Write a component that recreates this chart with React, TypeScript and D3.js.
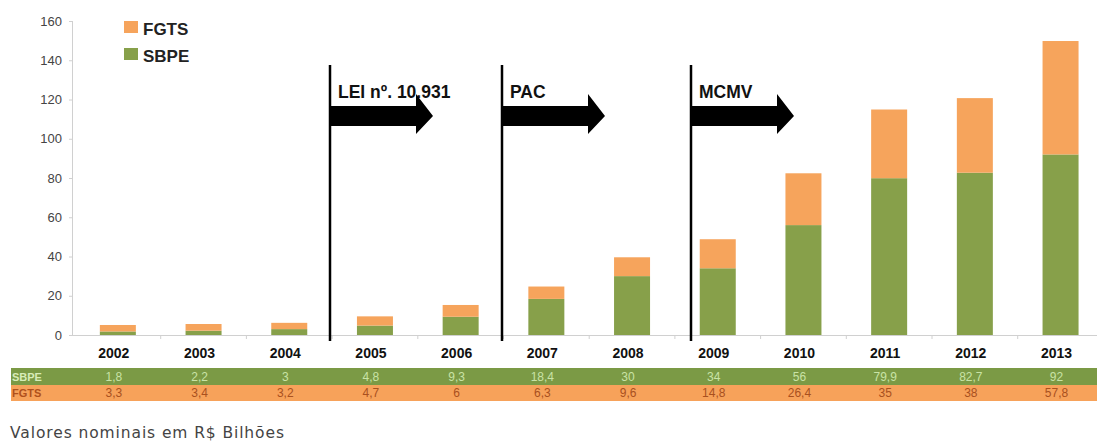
import React from "react";
import * as d3 from "d3";

const years = ["2002","2003","2004","2005","2006","2007","2008","2009","2010","2011","2012","2013"];
const sbpe = [1.8, 2.2, 3, 4.8, 9.3, 18.4, 30, 34, 56, 79.9, 82.7, 92];
const fgts = [3.3, 3.4, 3.2, 4.7, 6, 6.3, 9.6, 14.8, 26.4, 35, 38, 57.8];
const sbpeLabels = ["1,8","2,2","3","4,8","9,3","18,4","30","34","56","79,9","82,7","92"];
const fgtsLabels = ["3,3","3,4","3,2","4,7","6","6,3","9,6","14,8","26,4","35","38","57,8"];
const yTicks = [0, 20, 40, 60, 80, 100, 120, 140, 160];
const events = [
  { label: "LEI nº. 10.931", x: 330 },
  { label: "PAC", x: 502 },
  { label: "MCMV", x: 691 },
];

const W = 1097, H = 444;
const ORANGE = "#f6a45c";
const GREEN = "#87a04a";
const ROW_GREEN = "#7b9a45";
const ROW_ORANGE = "#f7a25a";

export default function App() {
  const xs = d3.scaleBand<string>().domain(years).range([75, 75 + 85.7 * 12]);
  const y = d3.scaleLinear().domain([0, 160]).range([335, 21]);
  const stacked = d3.stack<any>().keys(["sbpe", "fgts"])(
    years.map((yr, i) => ({ year: yr, sbpe: sbpe[i], fgts: fgts[i] }))
  );
  const colors = [GREEN, ORANGE];
  const bw = 36;
  const font = "Arial, 'Liberation Sans', Helvetica, sans-serif";

  return (
    <svg width={W} height={H} style={{ position: "absolute", left: 0, top: 0, background: "#fff" }} fontFamily={font}>
      {/* y axis */}
      <line x1={72.5} x2={72.5} y1={y(160)} y2={y(0)} stroke="#d0d0d0" />
      {yTicks.map((t) => (
        <g key={t}>
          <line x1={69} x2={72.5} y1={y(t) + 0.5} y2={y(t) + 0.5} stroke="#d0d0d0" />
          <text x={62} y={y(t) + 4.5} textAnchor="end" fontSize={13} fill="#444">{t}</text>
        </g>
      ))}
      {/* x axis */}
      <line x1={72} x2={W} y1={y(0) + 0.5} y2={y(0) + 0.5} stroke="#d0d0d0" />
      {years.map((yr) => (
        <line key={yr} x1={(xs(yr) as number) + 85.7} x2={(xs(yr) as number) + 85.7} y1={y(0)} y2={y(0) + 4} stroke="#d0d0d0" />
      ))}
      {/* bars */}
      {stacked.map((s, si) => (
        <g key={si} fill={colors[si]}>
          {s.map((d, i) => {
            const cx = (xs(years[i]) as number) + xs.bandwidth() / 2;
            return (
              <rect key={i} x={cx - bw / 2} width={bw} y={y(d[1])} height={y(d[0]) - y(d[1])} />
            );
          })}
        </g>
      ))}
      {/* x labels */}
      {years.map((yr) => (
        <text key={yr} x={(xs(yr) as number) + xs.bandwidth() / 2 - 4} y={358} textAnchor="middle" fontSize={14} fontWeight="bold" fill="#111">{yr}</text>
      ))}
      {/* events */}
      {events.map((e) => {
        const sx = e.x;
        const tip = sx + 103;
        const hs = tip - 17;
        return (
          <g key={e.label}>
            <line x1={sx} x2={sx} y1={65} y2={341} stroke="#000" strokeWidth={2.5} />
            <text x={sx + 8} y={98} fontSize={17.5} fontWeight="bold" fill="#111">{e.label}</text>
            <path d={`M${sx},106 L${hs},106 L${hs},94 L${tip},116 L${hs},134 L${hs},126 L${sx},126 Z`} fill="#000" />
          </g>
        );
      })}
      {/* legend */}
      <rect x={124} y={21} width={14} height={12} fill={ORANGE} />
      <text x={143} y={35} fontSize={17} fontWeight="bold" fill="#222">FGTS</text>
      <rect x={124} y={48} width={14} height={12} fill={GREEN} />
      <text x={143} y={62} fontSize={17} fontWeight="bold" fill="#222">SBPE</text>
      {/* table */}
      <rect x={11} y={368} width={W - 11} height={17} fill={ROW_GREEN} />
      <rect x={11} y={385} width={W - 11} height={16} fill={ROW_ORANGE} />
      <text x={12} y={381} fontSize={11} fontWeight="bold" fill="#d8ecb8">SBPE</text>
      <text x={12} y={397} fontSize={11} fontWeight="bold" fill="#b0501c">FGTS</text>
      {years.map((yr, i) => {
        const cx = (xs(yr) as number) + xs.bandwidth() / 2 - 4;
        return (
          <g key={yr} fontSize={12} textAnchor="middle">
            <text x={cx} y={381} fill="#c9e3a6">{sbpeLabels[i]}</text>
            <text x={cx} y={397} fill="#a9501e">{fgtsLabels[i]}</text>
          </g>
        );
      })}
      {/* footnote */}
      <text x={10} y={438} fontSize={15.5} letterSpacing={0.9} fill="#444" fontFamily="'DejaVu Sans', sans-serif">Valores nominais em R$ Bilhões</text>
    </svg>
  );
}
